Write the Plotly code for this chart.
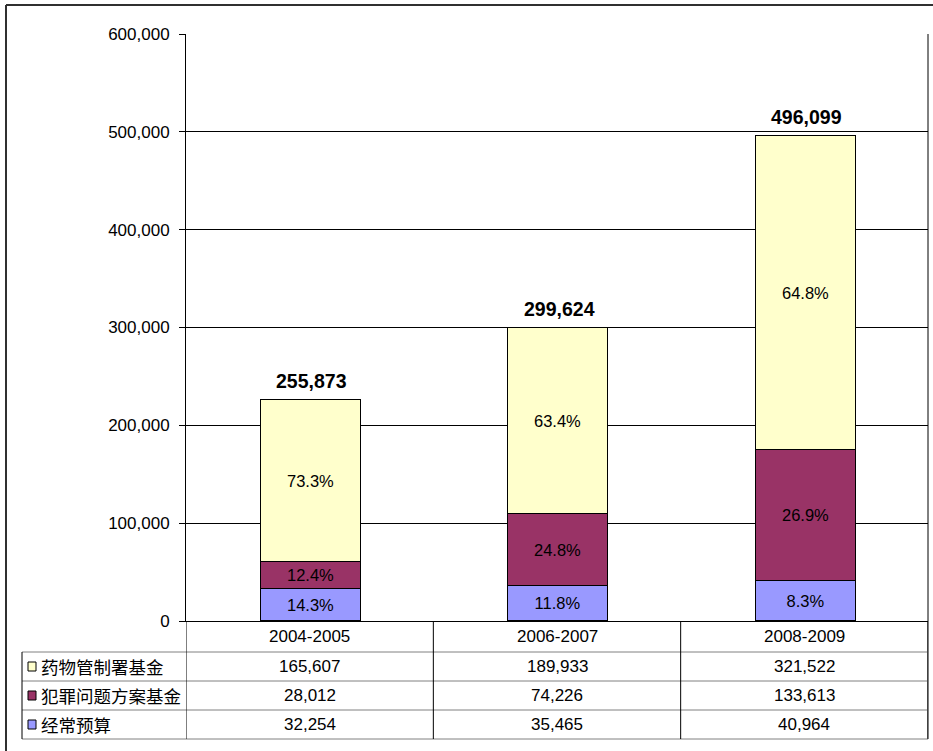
import plotly.graph_objects as go

categories = ["2004-2005", "2006-2007", "2008-2009"]
series_names = ["经常预算", "犯罪问题方案基金", "药物管制署基金"]
regular_budget = [32254, 35465, 40964]
crime_fund = [28012, 74226, 133613]
drug_fund = [165607, 189933, 321522]
total_labels = ["255,873", "299,624", "496,099"]
colors = ["#9999FF", "#993366", "#FFFFCC"]

series_values = [regular_budget, crime_fund, drug_fund]
totals = [sum(v) for v in zip(*series_values)]

W, H = 933, 751
L, R, T, B = 186, 928, 34, 621


def px(x):
    return (x - L) / (R - L)


def py(y):
    return (B - y) / (B - T)


fig = go.Figure()
for name, vals, col in zip(series_names, series_values, colors):
    pct = [f"{v / t * 100:.1f}%" for v, t in zip(vals, totals)]
    fig.add_trace(go.Bar(
        x=categories, y=vals, name=name, marker=dict(color=col, line=dict(color="black", width=1)),
        text=pct, textposition="inside", insidetextanchor="middle",
        textfont=dict(family="Liberation Sans, Arial", size=16.5, color="black"),
        width=0.405, offset=-0.197, showlegend=False, hoverinfo="skip",
    ))

annotations = []
for c, t, lab in zip(categories, totals, total_labels):
    annotations.append(dict(x=c, y=t, xref="x", yref="y", text=f"<b>{lab}</b>", showarrow=False,
                            yanchor="bottom", yshift=6, xshift=2,
                            font=dict(family="Liberation Sans, Arial", size=19.5, color="black")))

shapes = []
# outer frame
shapes.append(dict(type="line", xref="paper", yref="paper", x0=px(6), x1=px(933), y0=py(5), y1=py(5),
                   line=dict(color="#303030", width=2)))
shapes.append(dict(type="line", xref="paper", yref="paper", x0=px(6), x1=px(6), y0=py(5), y1=py(751),
                   line=dict(color="#303030", width=2)))
# plot area right border
shapes.append(dict(type="line", xref="paper", yref="paper", x0=1, x1=1, y0=py(739), y1=1,
                   line=dict(color="black", width=1)))
# table rows
row_lines = [652, 681, 710, 739]
for yl in row_lines:
    shapes.append(dict(type="line", xref="paper", yref="paper", x0=px(22), x1=1, y0=py(yl), y1=py(yl),
                       line=dict(color="#808080", width=1)))
# vertical lines in table
for i in range(len(categories) + 1):
    shapes.append(dict(type="line", xref="x", yref="paper", x0=i - 0.5, x1=i - 0.5, y0=py(739), y1=0,
                       line=dict(color="black", width=1)))
shapes.append(dict(type="line", xref="paper", yref="paper", x0=px(22), x1=px(22), y0=py(739), y1=py(652),
                   line=dict(color="black", width=1)))

num_font = dict(family="Liberation Sans, Arial", size=17, color="black")
cjk_font = dict(family="Noto Sans CJK SC", size=17.5, color="black")
for c in categories:
    annotations.append(dict(x=c, y=py(636.5), xref="x", yref="paper", text=c, showarrow=False,
                            yanchor="middle", font=num_font))

row_centers = [666.5, 695.5, 724.5]
table_order = [2, 1, 0]
for rc, idx in zip(row_centers, table_order):
    for c, v in zip(categories, series_values[idx]):
        annotations.append(dict(x=c, y=py(rc), xref="x", yref="paper", text=f"{v:,}", showarrow=False,
                                yanchor="middle", font=num_font))
    annotations.append(dict(x=px(39), y=py(rc), xref="paper", yref="paper", text=series_names[idx],
                            showarrow=False, xanchor="left", yanchor="middle", font=cjk_font))
    shapes.append(dict(type="rect", xref="paper", yref="paper", x0=px(28), x1=px(36),
                       y0=py(rc + 4.5), y1=py(rc - 4.5), fillcolor=colors[idx],
                       line=dict(color="black", width=1)))

fig.update_layout(
    width=W, height=H, barmode="stack", bargap=0,
    margin=dict(l=L, r=W - R, t=T, b=H - B),
    paper_bgcolor="white", plot_bgcolor="white",
    xaxis=dict(range=[-0.5, 2.5], showticklabels=False, ticks="", showgrid=False,
               showline=True, linecolor="black", linewidth=1, mirror=False, fixedrange=True),
    yaxis=dict(range=[0, 600000], dtick=100000, tickformat=",", showgrid=True, gridcolor="black",
               gridwidth=1, showline=True, linecolor="black", linewidth=1, ticks="outside", ticklen=6,
               tickcolor="black", ticklabelstandoff=6,
               tickfont=dict(family="Liberation Sans, Arial", size=17, color="black"),
               zeroline=False, fixedrange=True),
    shapes=shapes, annotations=annotations,
)

fig.write_html("out.html")
